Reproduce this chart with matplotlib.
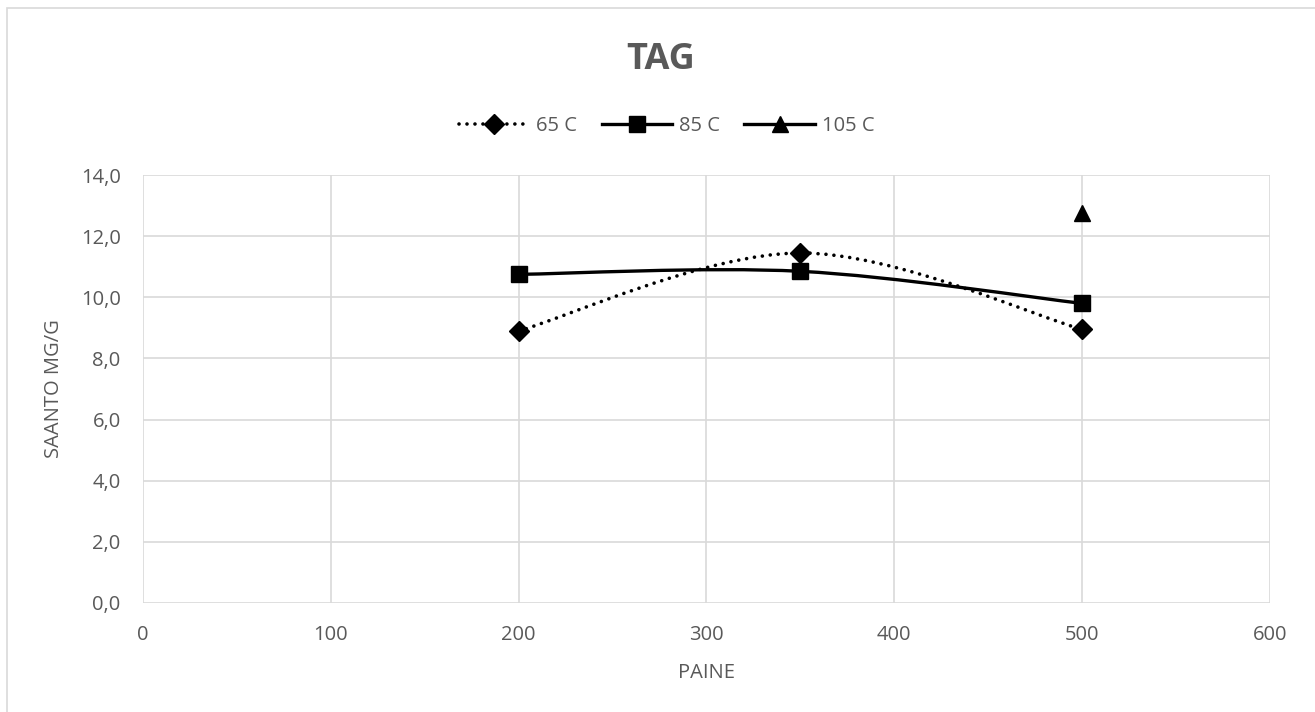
import matplotlib
matplotlib.use("Agg")
import matplotlib.pyplot as plt
from matplotlib.path import Path
from matplotlib.patches import PathPatch, Rectangle
from matplotlib.lines import Line2D
from matplotlib.ticker import FuncFormatter

plt.rcParams["font.family"] = ["Open Sans", "DejaVu Sans"]

x_65 = [200, 350, 500]
y_65 = [8.9, 11.45, 8.95]
x_85 = [200, 350, 500]
y_85 = [10.75, 10.85, 9.8]
x_105 = [500]
y_105 = [12.75]

labels = ["65 C", "85 C", "105 C"]
GRAY = "#595959"
GRID = "#D9D9D9"
DOTS = (0, (0.01, 2.2))


def smooth_path(xs, ys):
    """Excel-style smoothed line: Catmull-Rom segments as cubic Beziers."""
    pts = list(zip(xs, ys))
    verts = [pts[0]]
    codes = [Path.MOVETO]
    n = len(pts)
    for i in range(n - 1):
        p0 = pts[max(i - 1, 0)]
        p1 = pts[i]
        p2 = pts[i + 1]
        p3 = pts[min(i + 2, n - 1)]
        c1 = (p1[0] + (p2[0] - p0[0]) / 6, p1[1] + (p2[1] - p0[1]) / 6)
        c2 = (p2[0] - (p3[0] - p1[0]) / 6, p2[1] - (p3[1] - p1[1]) / 6)
        verts += [c1, c2, p2]
        codes += [Path.CURVE4] * 3
    return Path(verts, codes)


fig = plt.figure(figsize=(13.15, 7.12), dpi=100)
ax = fig.add_axes([0.1087, 0.1531, 0.8571, 0.6011])

# chart border (runs off the right and bottom edges)
fig.patches.append(Rectangle((0.0055, -0.05), 1.1, 1.039, transform=fig.transFigure,
                             fill=False, edgecolor=GRID, linewidth=1.2))

ax.add_patch(PathPatch(smooth_path(x_65, y_65), fill=False, edgecolor="black",
                       linewidth=2.6, linestyle=DOTS, capstyle="round", zorder=3))
ax.add_patch(PathPatch(smooth_path(x_85, y_85), fill=False, edgecolor="black",
                       linewidth=2.4, zorder=3))
ax.plot(x_65, y_65, linestyle="none", marker="D", markersize=10, color="black", zorder=4)
ax.plot(x_85, y_85, linestyle="none", marker="s", markersize=11, color="black", zorder=4)
ax.plot(x_105, y_105, linestyle="none", marker="^", markersize=11, color="black", zorder=4)

ax.set_xlim(0, 600)
ax.set_ylim(0, 14)
ax.set_xticks(range(0, 601, 100))
ax.set_yticks(range(0, 15, 2))
ax.yaxis.set_major_formatter(FuncFormatter(lambda v, _: f"{v:.1f}".replace(".", ",")))
ax.grid(True, color=GRID, linewidth=1.2)
ax.set_axisbelow(True)
for s in ax.spines.values():
    s.set_visible(False)
ax.tick_params(length=0, labelsize=14.5, colors=GRAY)
ax.tick_params(axis="y", pad=16)
ax.tick_params(axis="x", pad=16)

ax.set_xlabel("PAINE", fontsize=14.5, color=GRAY, labelpad=13)
ax.set_ylabel("SAANTO MG/G", fontsize=14.5, color=GRAY, labelpad=12)
fig.text(0.502, 0.916, "TAG", ha="center", va="center", fontsize=26,
         fontweight="bold", color=GRAY)

handles = [
    Line2D([], [], color="black", linewidth=2.6, linestyle=DOTS,
           dash_capstyle="round", marker="D", markersize=10),
    Line2D([], [], color="black", linewidth=2.4, marker="s", markersize=11),
    Line2D([], [], color="black", linewidth=2.4, marker="^", markersize=11),
]
fig.legend(handles, labels, loc="center", bbox_to_anchor=(0.507, 0.823), ncol=3,
           frameon=False, fontsize=14.5, labelcolor=GRAY, handlelength=3.5,
           handletextpad=0.35, columnspacing=1.2)

fig.savefig("out.png", dpi=100)
